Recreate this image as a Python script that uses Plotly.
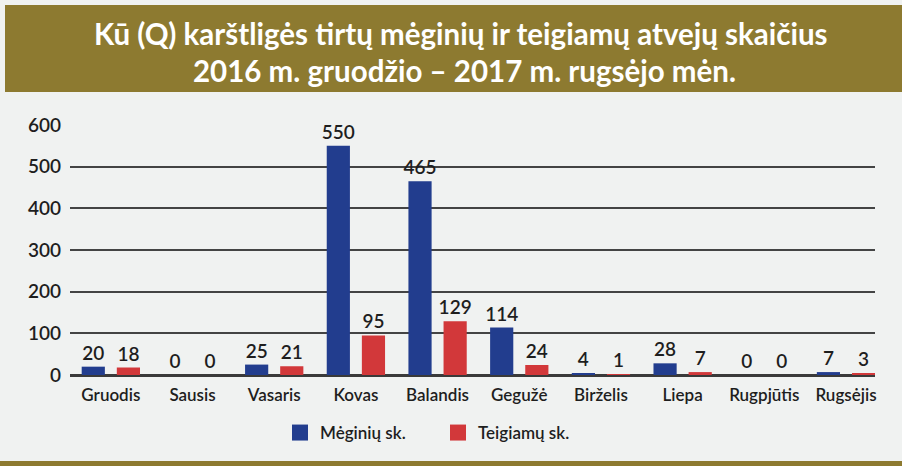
import plotly.graph_objects as go

months = ["Gruodis", "Sausis", "Vasaris", "Kovas", "Balandis", "Gegužė",
          "Birželis", "Liepa", "Rugpjūtis", "Rugsėjis"]
tested = [20, 0, 25, 550, 465, 114, 4, 28, 0, 7]
positive = [18, 0, 21, 95, 129, 24, 1, 7, 0, 3]
series_names = ["Mėginių sk.", "Teigiamų sk."]
title_lines = ["Kū (Q) karštligės tirtų mėginių ir teigiamų atvejų skaičius",
               "2016 m. gruodžio – 2017 m. rugsėjo mėn."]

W, H = 902, 466
L, R, T, B = 70, 875, 125, 375  # plot area in px

def px_x(p):
    return (p - L) / (R - L)

def px_y(p):
    return (B - p) / (B - T)

BLUE = "#223d8e"
RED = "#d2383a"
GOLD = "#8d7a30"
BG = "#f0f2f1"
TXT = "#1e1e1e"
FONT = "Lato, 'Open Sans', sans-serif"

fig = go.Figure()
for name, vals, col in [(series_names[0], tested, BLUE), (series_names[1], positive, RED)]:
    fig.add_trace(go.Bar(
        x=months, y=vals, name=name, marker=dict(color=col, line=dict(width=0)),
        text=[str(v) for v in vals], textposition="outside", constraintext="none",
        textfont=dict(family=FONT, size=19, color=TXT, weight=600),
        cliponaxis=False, showlegend=False,
    ))
# legend entries with larger square swatches
for name, col in [(series_names[0], BLUE), (series_names[1], RED)]:
    fig.add_trace(go.Scatter(
        x=[None], y=[None], mode="markers", name=name,
        marker=dict(symbol="square", size=16, color=col),
    ))

shapes = [
    dict(type="rect", xref="paper", yref="paper",
         x0=px_x(5), x1=px_x(902), y0=px_y(92), y1=px_y(5),
         fillcolor=GOLD, line=dict(width=0), layer="below"),
    dict(type="rect", xref="paper", yref="paper",
         x0=px_x(0), x1=px_x(902), y0=px_y(466), y1=px_y(461),
         fillcolor=GOLD, line=dict(width=0), layer="below"),
]

TFONT = dict(family="Lato, sans-serif", size=29.5, color="white", weight=700)
annotations = [
    dict(text=title_lines[0], xref="paper", yref="paper",
         x=px_x(461), y=px_y(34), xanchor="center", yanchor="middle",
         showarrow=False, font=TFONT),
    dict(text=title_lines[1], xref="paper", yref="paper",
         x=px_x(464), y=px_y(70), xanchor="center", yanchor="middle",
         showarrow=False, font=TFONT),
]

fig.update_layout(
    width=W, height=H,
    margin=dict(l=L, r=W - R, t=T, b=H - B, pad=0),
    paper_bgcolor=BG, plot_bgcolor=BG,
    barmode="group", bargap=0.14, bargroupgap=0.34,
    shapes=shapes, annotations=annotations,
    showlegend=True,
    legend=dict(orientation="h", x=px_x(280), y=px_y(433), xanchor="left", yanchor="middle",
                font=dict(family=FONT, size=17, color=TXT, weight=600), bgcolor="rgba(0,0,0,0)",
                itemwidth=30, traceorder="normal", tracegroupgap=0,
                entrywidth=113, entrywidthmode="pixels"),
    font=dict(family=FONT, color=TXT),
)
fig.update_xaxes(range=[-0.5, 9.355], showgrid=False, showline=False, zeroline=False,
                 ticks="", ticklabelstandoff=8,
                 tickfont=dict(family=FONT, size=17, color=TXT, weight=600))
fig.update_yaxes(range=[0, 600], dtick=100, showgrid=True, gridcolor="#444444", gridwidth=1.6,
                 zeroline=True, zerolinecolor="#3a3a3a", zerolinewidth=2.5,
                 showline=False, ticks="", ticklabelstandoff=8,
                 tickfont=dict(family=FONT, size=19, color=TXT, weight=600))

fig.write_html("out.html")
